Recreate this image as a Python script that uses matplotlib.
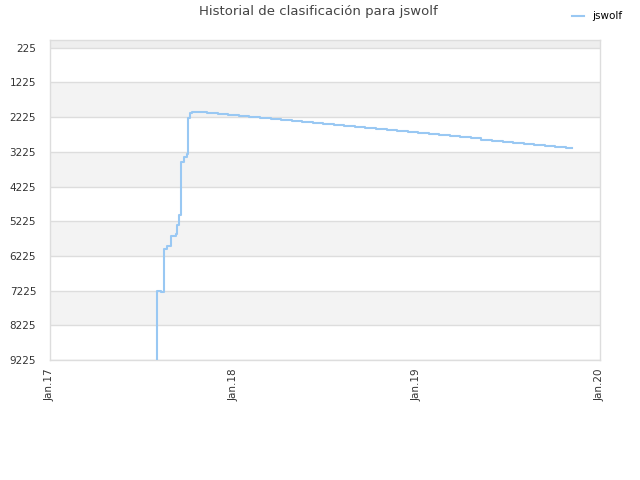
import matplotlib
matplotlib.use('Agg')
import matplotlib.pyplot as plt
import pandas as pd

# rank history (lower rank = better, axis inverted)
climb_dates = ['2017-08-03', '2017-08-03', '2017-08-09', '2017-08-15', '2017-08-16',
               '2017-08-22', '2017-08-29', '2017-09-09', '2017-09-11', '2017-09-15',
               '2017-09-18', '2017-09-19', '2017-09-25', '2017-09-30', '2017-10-02',
               '2017-10-06', '2017-10-10']
climb_ranks = [9700, 7222, 7260, 7145, 6015,
               5950, 5662, 5593, 5325, 5038,
               4320, 3507, 3363, 3300, 2260,
               2116, 2070]

decline_dates = ['2017-11-10', '2017-12-01', '2017-12-22', '2018-01-12', '2018-02-02',
                 '2018-02-23', '2018-03-16', '2018-04-06', '2018-04-27', '2018-05-18',
                 '2018-06-08', '2018-06-29', '2018-07-20', '2018-08-10', '2018-08-31',
                 '2018-09-21', '2018-10-12', '2018-11-02', '2018-11-23', '2018-12-14',
                 '2019-01-04', '2019-01-25', '2019-02-15', '2019-03-08', '2019-03-29',
                 '2019-04-19', '2019-05-10', '2019-05-31', '2019-06-21', '2019-07-12',
                 '2019-08-02', '2019-08-23', '2019-09-13', '2019-10-04', '2019-10-25',
                 '2019-11-07']
decline_ranks = [2107, 2136, 2166, 2195, 2224,
                 2254, 2283, 2312, 2342, 2371,
                 2400, 2430, 2459, 2488, 2518,
                 2547, 2576, 2606, 2635, 2664,
                 2694, 2723, 2752, 2782, 2811,
                 2840, 2870, 2899, 2928, 2958,
                 2987, 3016, 3046, 3075, 3104,
                 3104]

y_ticks = [225, 1225, 2225, 3225, 4225, 5225, 6225, 7225, 8225, 9225]
x_ticks = ['2017-01-01', '2018-01-01', '2019-01-01', '2020-01-01']
x_labels = ['Jan.17', 'Jan.18', 'Jan.19', 'Jan.20']

dates = pd.to_datetime(climb_dates + decline_dates)
ranks = climb_ranks + decline_ranks

fig = plt.figure(figsize=(6.4, 4.8), dpi=100)
ax = fig.add_axes([50 / 640, 120 / 480, 550 / 640, 320 / 480])

y_top = 1
y_bottom = 9225

# alternating bands
ax.axhspan(y_top, y_ticks[0], color='#eeeeee', zorder=0, lw=0)
for i in range(len(y_ticks) - 1):
    if i % 2 == 1:
        ax.axhspan(y_ticks[i], y_ticks[i + 1], color='#f3f3f3', zorder=0, lw=0)
for t in y_ticks:
    ax.axhline(t, color='#dddddd', lw=1, zorder=1)

ax.plot(dates, ranks, drawstyle='steps-post', color='#99c8f3', lw=1.5, zorder=3,
        label='jswolf')

ax.set_ylim(y_bottom, y_top)
ax.set_xlim(pd.Timestamp('2017-01-01'), pd.Timestamp('2020-01-01'))
ax.set_yticks(y_ticks)
ax.set_yticklabels([str(t) for t in y_ticks])
ax.set_xticks(pd.to_datetime(x_ticks))
ax.set_xticklabels(x_labels, rotation=90)
ax.tick_params(axis='both', length=0, labelsize=7.5, colors='#333333')
ax.tick_params(axis='y', pad=10)
ax.tick_params(axis='x', pad=6)

for s in ax.spines.values():
    s.set_color('#dddddd')
    s.set_linewidth(1)

fig.text(318 / 640, 1 - 12 / 480, 'Historial de clasificación para jswolf',
         ha='center', va='center', fontsize=9.5, color='#444444')
fig.legend(loc='upper right', bbox_to_anchor=(632 / 640, 1 - 2 / 480), frameon=False,
           fontsize=7.5, handlelength=1.2, handletextpad=0.8)

fig.savefig('out.png', dpi=100)
